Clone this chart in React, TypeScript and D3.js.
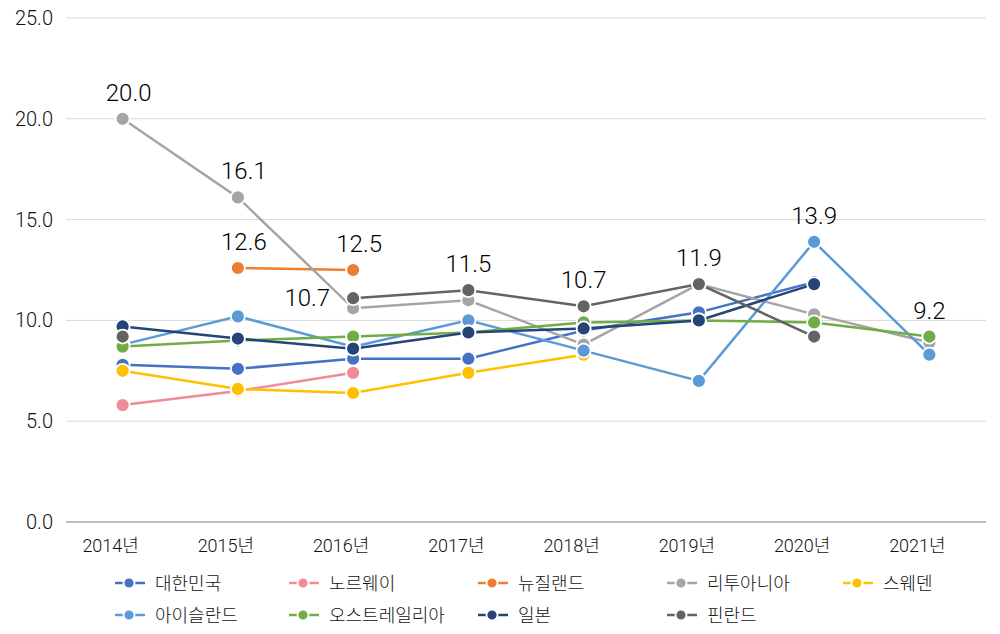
import React from "react";
import * as d3 from "d3";

const years = ["2014년", "2015년", "2016년", "2017년", "2018년", "2019년", "2020년", "2021년"];
const yTicks = [0, 5, 10, 15, 20, 25];

const seriesNames = ["대한민국", "노르웨이", "뉴질랜드", "리투아니아", "스웨덴", "아이슬란드", "오스트레일리아", "일본", "핀란드"];
const seriesColors = ["#4472C4", "#F08C99", "#ED7D31", "#A5A5A5", "#FFC000", "#5B9BD5", "#70AD47", "#264478", "#636363"];

const korea = [7.8, 7.6, 8.1, 8.1, 9.5, 10.4, 11.9, null];
const norway = [5.8, 6.5, 7.4, null, null, null, null, null];
const newZealand = [null, 12.6, 12.5, null, null, null, null, null];
const lithuania = [20.0, 16.1, 10.6, 11.0, 8.8, 11.8, 10.3, 8.9];
const sweden = [7.5, 6.6, 6.4, 7.4, 8.3, null, null, null];
const iceland = [8.8, 10.2, 8.7, 10.0, 8.5, 7.0, 13.9, 8.3];
const australia = [8.7, 9.0, 9.2, 9.4, 9.9, 10.0, 9.9, 9.2];
const japan = [9.7, 9.1, 8.6, 9.4, 9.6, 10.0, 11.8, null];
const finland = [9.2, null, 11.1, 11.5, 10.7, 11.8, 9.2, null];

const seriesValues: (number | null)[][] = [korea, norway, newZealand, lithuania, sweden, iceland, australia, japan, finland];

// data labels: year index, series index, text, position
const labelYear = [0, 1, 1, 2, 2, 3, 4, 5, 6, 7];
const labelSeries = [3, 3, 2, 2, 8, 8, 8, 8, 5, 6];
const labelText = ["20.0", "16.1", "12.6", "12.5", "10.7", "11.5", "10.7", "11.9", "13.9", "9.2"];
const labelPos = ["top", "top", "top", "top", "left", "top", "top", "top", "top", "top"];

// legend layout (columns / rows)
const legendCols = [115, 289, 478, 667, 843];
const legendRows = [583, 615];

const W = 1000;
const H = 634;
const FONT = "Roboto, 'Noto Sans CJK KR', sans-serif";

export default function App() {
  const x = d3.scalePoint<string>().domain(years).range([65, 987]).padding(0.5);
  const y = d3.scaleLinear().domain([0, 25]).range([522, 18]);

  const line = d3
    .line<number | null>()
    .defined((d) => d !== null)
    .x((_, i) => x(years[i]) as number)
    .y((d) => y(d as number));

  return (
    <svg width={W} height={H} style={{ position: "absolute", left: 0, top: 0, background: "#fff" }} fontFamily={FONT} fontWeight={300}>
      <rect x={0} y={0} width={W} height={H} fill="#fff" />
      {/* gridlines */}
      {yTicks.map((t) => (
        <line
          key={"g" + t}
          x1={66}
          x2={986}
          y1={y(t)}
          y2={y(t)}
          stroke={t === 0 ? "#BFBFBF" : "#D9D9D9"}
          strokeWidth={t === 0 ? 2 : 1}
        />
      ))}
      {/* y tick labels */}
      {yTicks.map((t) => (
        <text key={"yt" + t} x={53} y={y(t)} textAnchor="end" dominantBaseline="central" fontSize={20} fill="#111">
          {t.toFixed(1)}
        </text>
      ))}
      {/* x tick labels */}
      {years.map((yr) => (
        <text key={"xt" + yr} x={(x(yr) as number) - 12} y={545} textAnchor="middle" dominantBaseline="central" fontSize={18} fill="#111">
          {yr}
        </text>
      ))}
      {/* series */}
      {seriesValues.map((vals, si) => (
        <g key={"s" + si}>
          <path d={line(vals) || ""} fill="none" stroke={seriesColors[si]} strokeWidth={2.5} />
          {vals.map((v, i) =>
            v === null ? null : (
              <circle key={i} cx={x(years[i])} cy={y(v)} r={7} fill={seriesColors[si]} stroke="#fff" strokeWidth={1.8} />
            )
          )}
        </g>
      ))}
      {/* data labels */}
      {labelText.map((txt, k) => {
        const yi = labelYear[k];
        const si = labelSeries[k];
        const v = seriesValues[si][yi] as number;
        const px = x(years[yi]) as number;
        const py = y(v);
        const isLeft = labelPos[k] === "left";
        const dx = yi <= 2 && !isLeft ? 6 : 0;
        return (
          <text
            key={"l" + k}
            x={isLeft ? px - 23 : px + dx}
            y={isLeft ? py : py - 26}
            textAnchor={isLeft ? "end" : "middle"}
            dominantBaseline="central"
            fontSize={24}
            fill="#000"
          >
            {txt}
          </text>
        );
      })}
      {/* legend */}
      {seriesNames.map((name, si) => {
        const lx = legendCols[si % 5];
        const ly = legendRows[Math.floor(si / 5)];
        return (
          <g key={"lg" + si}>
            <line x1={lx} x2={lx + 30} y1={ly} y2={ly} stroke={seriesColors[si]} strokeWidth={2.5} />
            <circle cx={lx + 14} cy={ly} r={5.5} fill={seriesColors[si]} stroke="#fff" strokeWidth={1.8} />
            <text x={lx + 40} y={ly} dominantBaseline="central" fontSize={18} fill="#111">
              {name}
            </text>
          </g>
        );
      })}
    </svg>
  );
}
